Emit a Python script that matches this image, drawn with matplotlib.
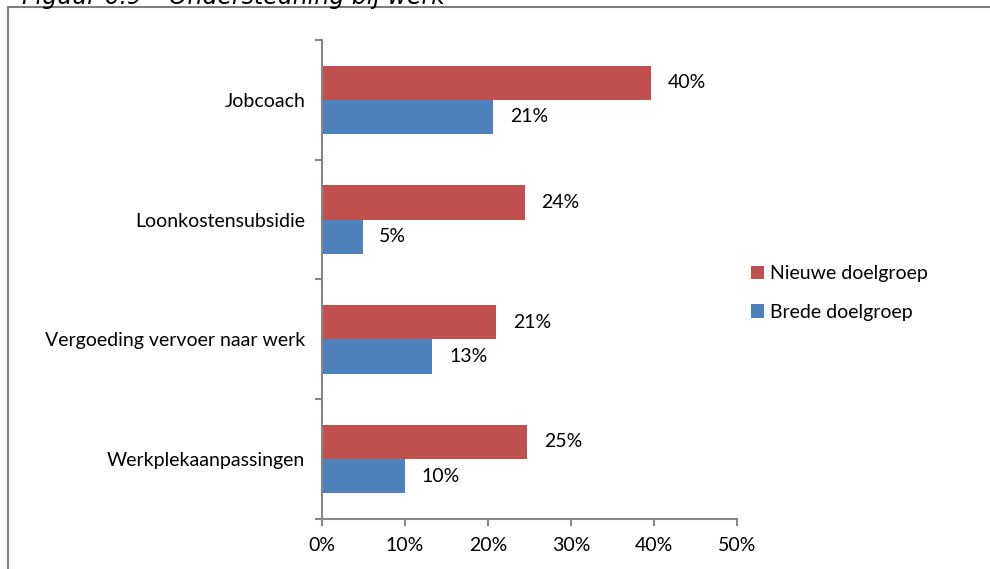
import numpy as np
import matplotlib.pyplot as plt
from matplotlib.lines import Line2D
from matplotlib.ticker import FixedLocator

plt.rcParams['font.family'] = ['Lato', 'DejaVu Sans']

categories = ['Werkplekaanpassingen', 'Vergoeding vervoer naar werk', 'Loonkostensubsidie', 'Jobcoach']
nieuwe = [24.7, 21.0, 24.4, 39.6]
brede = [10.0, 13.3, 4.9, 20.6]
series_names = ['Nieuwe doelgroep', 'Brede doelgroep']
xticks = [0, 10, 20, 30, 40, 50]

red = '#c0504d'
blue = '#4f81bd'
grey = '#868686'
fs = 14

fig = plt.figure(figsize=(9.9, 5.69), dpi=100)
ax = fig.add_axes([0.3253, 0.0879, 0.4192, 0.8418])

y = np.arange(len(categories))
h = 0.286
ax.barh(y + h / 2, nieuwe, height=h, color=red, label=series_names[0])
ax.barh(y - h / 2, brede, height=h, color=blue, label=series_names[1])

for yi, v in zip(y, nieuwe):
    ax.annotate(f'{v:.0f}%', (v, yi + h / 2), xytext=(12, 0), textcoords='offset points',
                va='center', ha='left', fontsize=fs)
for yi, v in zip(y, brede):
    ax.annotate(f'{v:.0f}%', (v, yi - h / 2), xytext=(12, 0), textcoords='offset points',
                va='center', ha='left', fontsize=fs)

ax.set_xlim(0, 50)
ax.set_ylim(-0.5, len(categories) - 0.5)
ax.set_xticks(xticks)
ax.set_xticklabels([f'{t}%' for t in xticks], fontsize=fs)
ax.set_yticks(y)
ax.set_yticklabels(categories, fontsize=fs)
ax.yaxis.set_minor_locator(FixedLocator(np.arange(-0.5, len(categories), 1)))
ax.tick_params(axis='y', which='major', length=0, pad=12)
ax.tick_params(axis='y', which='minor', length=5, color=grey, width=1.5)
ax.tick_params(axis='x', length=5, color=grey, width=1.5, pad=8)

for s in ['top', 'right']:
    ax.spines[s].set_visible(False)
for s in ['left', 'bottom']:
    ax.spines[s].set_color(grey)
    ax.spines[s].set_linewidth(1.5)

handles, labels = ax.get_legend_handles_labels()
ax.legend(handles, labels, loc='center left', bbox_to_anchor=(1.0, 0.472), frameon=False,
          fontsize=fs, handlelength=0.7, handleheight=0.7, handletextpad=0.3, labelspacing=1.1,
          borderaxespad=0.3)

# outer chart frame (cut off at right and bottom)
fig.add_artist(Line2D([8 / 990, 8 / 990], [0, 1 - 7 / 569], transform=fig.transFigure,
                      color='#7f7f7f', lw=1.5))
fig.add_artist(Line2D([8 / 990, 1], [1 - 7 / 569, 1 - 7 / 569], transform=fig.transFigure,
                      color='#7f7f7f', lw=1.5))

fig.text(22 / 990, 1 - 4 / 569, 'Figuur 6.9 \u2013 Ondersteuning bij werk', fontsize=17,
         style='italic', family='DejaVu Sans', va='baseline', ha='left')

fig.savefig('out.png', dpi=100)
